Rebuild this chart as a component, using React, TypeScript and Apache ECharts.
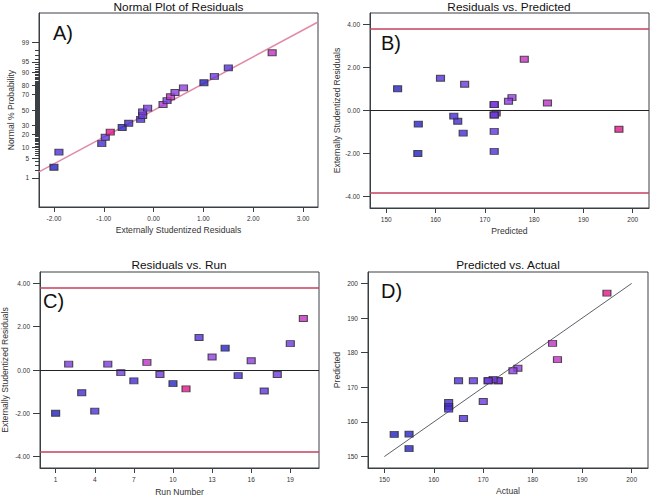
import React, { useEffect, useRef } from "react";
import * as echarts from "echarts";

// ---- Data ----
const runNumbers = [1, 2, 3, 4, 5, 6, 7, 8, 9, 10, 11, 12, 13, 14, 15, 16, 17, 18, 19, 20];
const residuals = [-2.0, 0.27, -1.05, -1.9, 0.27, -0.12, -0.5, 0.35, -0.21, -0.63, -0.87, 1.5, 0.6, 1.01, -0.26, 0.43, -0.97, -0.21, 1.22, 2.38];
const predicted = [156.4, 171.9, 165.6, 171.9, 171.9, 172.3, 164.5, 182.7, 171.9, 156.5, 197.2, 161.0, 175.5, 152.3, 163.7, 174.8, 171.9, 171.9, 165.9, 178.0];
const actual = [152, 173, 163, 165, 173, 172, 163, 184, 171, 155, 195, 166, 177, 155, 163, 176, 168, 171, 170, 185];

const normalResiduals = [-2.0, -1.9, -1.04, -0.97, -0.87, -0.63, -0.5, -0.26, -0.22, -0.22, -0.12, 0.19, 0.27, 0.34, 0.43, 0.6, 1.01, 1.22, 1.5, 2.38];
const normalPercent = [2.5, 7.5, 12.5, 17.5, 22.5, 27.5, 32.5, 37.5, 42.5, 47.5, 52.5, 57.5, 62.5, 67.5, 72.5, 77.5, 82.5, 87.5, 92.5, 97.5];
const normalActual = [152, 165, 163, 168, 195, 155, 163, 163, 171, 171, 172, 180, 173, 184, 176, 177, 155, 170, 166, 185];

const fitLineX = [-2.3, 3.3];
const fitLinePercent = [1.7, 99.87];

const probTickLabels = [1, 5, 10, 20, 30, 50, 70, 80, 90, 95, 99];
const residualTicks = [-4, -2, 0, 2, 4];
const residualTickLabels = ["-4.00", "-2.00", "0.00", "2.00", "4.00"];
const normalXTicks = [-2, -1, 0, 1, 2, 3];
const normalXTickLabels = ["-2.00", "-1.00", "0.00", "1.00", "2.00", "3.00"];
const responseTicks = [150, 160, 170, 180, 190, 200];
const runTicks = [1, 4, 7, 10, 13, 16, 19];
const limitValue = 3.8;
const diagonal = [150, 200];

// ---- probability scale (inverse normal CDF) ----
function probit(pct: number): number {
  const p = pct / 100;
  const a = [-3.969683028665376e1, 2.209460984245205e2, -2.759285104469687e2, 1.38357751867269e2, -3.066479806614716e1, 2.506628277459239];
  const b = [-5.447609879822406e1, 1.615858368580409e2, -1.556989798598866e2, 6.680131188771972e1, -1.328068155288572e1];
  const c = [-7.784894002430293e-3, -3.223964580411365e-1, -2.400758277161838, -2.549732539343734, 4.374664141464968, 2.938163982698783];
  const d = [7.784695709041462e-3, 3.224671290700398e-1, 2.445134137142996, 3.754408661907416];
  const plow = 0.02425;
  if (p < plow) {
    const q = Math.sqrt(-2 * Math.log(p));
    return (((((c[0] * q + c[1]) * q + c[2]) * q + c[3]) * q + c[4]) * q + c[5]) / ((((d[0] * q + d[1]) * q + d[2]) * q + d[3]) * q + 1);
  }
  if (p > 1 - plow) {
    const q = Math.sqrt(-2 * Math.log(1 - p));
    return -(((((c[0] * q + c[1]) * q + c[2]) * q + c[3]) * q + c[4]) * q + c[5]) / ((((d[0] * q + d[1]) * q + d[2]) * q + d[3]) * q + 1);
  }
  const q = p - 0.5;
  const r = q * q;
  return ((((((a[0] * r + a[1]) * r + a[2]) * r + a[3]) * r + a[4]) * r + a[5]) * q) / (((((b[0] * r + b[1]) * r + b[2]) * r + b[3]) * r + b[4]) * r + 1);
}

const FONT = "'Liberation Sans', Arial, sans-serif";
const AX = "#3a3f44";

function axisBase(gridIndex: number, min: number, max: number, ticks: number[], labels: string[] | null, name: string, nameGap: number, isY: boolean) {
  return {
    type: "value",
    gridIndex,
    min,
    max,
    position: isY ? "left" : "bottom",
    name,
    nameLocation: "middle",
    nameGap,
    nameTextStyle: { fontSize: 8.6, color: "#333", fontFamily: FONT },
    axisLine: { show: true, onZero: false, lineStyle: { color: AX, width: 1 } },
    axisTick: { show: true, customValues: ticks, length: isY ? 7 : 5, lineStyle: { color: AX } },
    axisLabel: {
      show: true,
      customValues: ticks,
      fontSize: 6.5,
      color: "#333",
      fontFamily: FONT,
      margin: isY ? 10 : 8,
      formatter: (v: number) => {
        const i = ticks.findIndex((t) => Math.abs(t - v) < 1e-6);
        if (i < 0) return "";
        return labels ? labels[i] : String(ticks[i]);
      },
    },
    splitLine: { show: false },
  };
}

const markerStyle = { borderColor: "#2a2a2a", borderWidth: 1 };

function limitLines() {
  return {
    symbol: "none",
    silent: true,
    label: { show: false },
    animation: false,
    data: [
      { yAxis: 0, lineStyle: { color: "#222", width: 1, type: "solid" } },
      { yAxis: limitValue, lineStyle: { color: "#c4405e", width: 1.6, type: "solid" } },
      { yAxis: -limitValue, lineStyle: { color: "#c4405e", width: 1.6, type: "solid" } },
    ],
  };
}

export default function App() {
  const ref = useRef<HTMLDivElement>(null);
  useEffect(() => {
    document.body.style.margin = "0";
    if (!ref.current) return;
    const chart = echarts.init(ref.current, undefined, { renderer: "svg" });

    const zMin = -3.32;
    const zMax = 3.32;
    const probTicksZ = probTickLabels.map(probit);
    const minorZ: number[] = [];
    for (let p = 1; p <= 99; p++) minorZ.push(probit(p));

    const gridCommon = { show: true, borderColor: AX, borderWidth: 1, backgroundColor: "#fff", containLabel: false, outerBoundsMode: "none" };

    const option: any = {
      animation: false,
      backgroundColor: "#fff",
      textStyle: { fontFamily: FONT },
      grid: [
        { ...gridCommon, left: 39, top: 13, width: 279, height: 194 },
        { ...gridCommon, left: 370, top: 13, width: 279, height: 195 },
        { ...gridCommon, left: 40, top: 272, width: 279, height: 196 },
        { ...gridCommon, left: 368, top: 272, width: 280, height: 196 },
      ],
      xAxis: [
        axisBase(0, -2.3, 3.3, normalXTicks, normalXTickLabels, "Externally Studentized Residuals", 18, false),
        axisBase(1, 146.7, 203.3, responseTicks, null, "Predicted", 18, false),
        axisBase(2, -0.2, 21.2, runTicks, null, "Run Number", 19, false),
        axisBase(3, 146.7, 203.3, responseTicks, null, "Actual", 18, false),
      ],
      yAxis: [
        axisBase(0, zMin, zMax, probTicksZ, probTickLabels.map(String), "Normal % Probability", 24, true),
        axisBase(1, -4.53, 4.53, residualTicks, residualTickLabels, "Externally Studentized Residuals", 29, true),
        axisBase(2, -4.53, 4.53, residualTicks, residualTickLabels, "Externally Studentized Residuals", 31, true),
        axisBase(3, 146.7, 203.3, responseTicks, null, "Predicted", 27, true),
        {
          type: "value",
          gridIndex: 0,
          position: "left",
          offset: 0,
          min: zMin,
          max: zMax,
          axisLine: { show: false, onZero: false },
          axisLabel: { show: false },
          splitLine: { show: false },
          axisTick: { show: true, customValues: minorZ, length: 4, lineStyle: { color: AX } },
        },
      ],
      visualMap: {
        type: "continuous",
        show: false,
        min: 152,
        max: 195,
        dimension: 2,
        seriesIndex: [0, 2, 3, 4],
        inRange: { color: ["#2020c0", "#3628d0", "#6636e0", "#9a3ee2", "#cc2cbc", "#e0188a"] },
      },
      series: [
        {
          type: "scatter",
          xAxisIndex: 0,
          yAxisIndex: 0,
          symbol: "rect",
          symbolSize: [8, 6],
          itemStyle: markerStyle,
          data: normalResiduals.map((r, i) => [r, probit(normalPercent[i]), normalActual[i]]),
          z: 3,
        },
        {
          type: "line",
          xAxisIndex: 0,
          yAxisIndex: 0,
          symbol: "none",
          lineStyle: { color: "#e08aa6", width: 1.5 },
          data: fitLineX.map((x, i) => [x, probit(fitLinePercent[i])]),
          z: 2,
        },
        {
          type: "scatter",
          xAxisIndex: 1,
          yAxisIndex: 1,
          symbol: "rect",
          symbolSize: [8, 6],
          itemStyle: markerStyle,
          data: predicted.map((p, i) => [p, residuals[i], actual[i]]),
          markLine: limitLines(),
          z: 3,
        },
        {
          type: "scatter",
          xAxisIndex: 2,
          yAxisIndex: 2,
          symbol: "rect",
          symbolSize: [8, 6],
          itemStyle: markerStyle,
          data: runNumbers.map((n, i) => [n, residuals[i], actual[i]]),
          markLine: limitLines(),
          z: 3,
        },
        {
          type: "scatter",
          xAxisIndex: 3,
          yAxisIndex: 3,
          symbol: "rect",
          symbolSize: [8, 6],
          itemStyle: markerStyle,
          data: actual.map((a, i) => [a, predicted[i], a]),
          z: 3,
        },
        {
          type: "line",
          xAxisIndex: 3,
          yAxisIndex: 3,
          symbol: "none",
          lineStyle: { color: "#5a6268", width: 1 },
          data: diagonal.map((v) => [v, v]),
          z: 2,
        },
      ],
      graphic: [
        { type: "text", x: 178.5, y: 6.5, style: { text: "Normal Plot of Residuals", font: `11.8px ${FONT}`, fill: "#111", align: "center", verticalAlign: "middle" } },
        { type: "text", x: 509, y: 6.5, style: { text: "Residuals vs. Predicted", font: `11.8px ${FONT}`, fill: "#111", align: "center", verticalAlign: "middle" } },
        { type: "text", x: 179, y: 265, style: { text: "Residuals vs. Run", font: `11.8px ${FONT}`, fill: "#111", align: "center", verticalAlign: "middle" } },
        { type: "text", x: 508, y: 265, style: { text: "Predicted vs. Actual", font: `11.8px ${FONT}`, fill: "#111", align: "center", verticalAlign: "middle" } },
        { type: "text", x: 53, y: 33, style: { text: "A)", font: `20px ${FONT}`, fill: "#111", align: "left", verticalAlign: "middle" } },
        { type: "text", x: 381, y: 43, style: { text: "B)", font: `20px ${FONT}`, fill: "#111", align: "left", verticalAlign: "middle" } },
        { type: "text", x: 43, y: 301, style: { text: "C)", font: `20px ${FONT}`, fill: "#111", align: "left", verticalAlign: "middle" } },
        { type: "text", x: 381, y: 291, style: { text: "D)", font: `20px ${FONT}`, fill: "#111", align: "left", verticalAlign: "middle" } },
      ],
    };
    chart.setOption(option);
    return () => chart.dispose();
  }, []);
  return <div ref={ref} style={{ position: "fixed", left: 0, top: 0, width: 652, height: 497, background: "#fff" }} />;
}
